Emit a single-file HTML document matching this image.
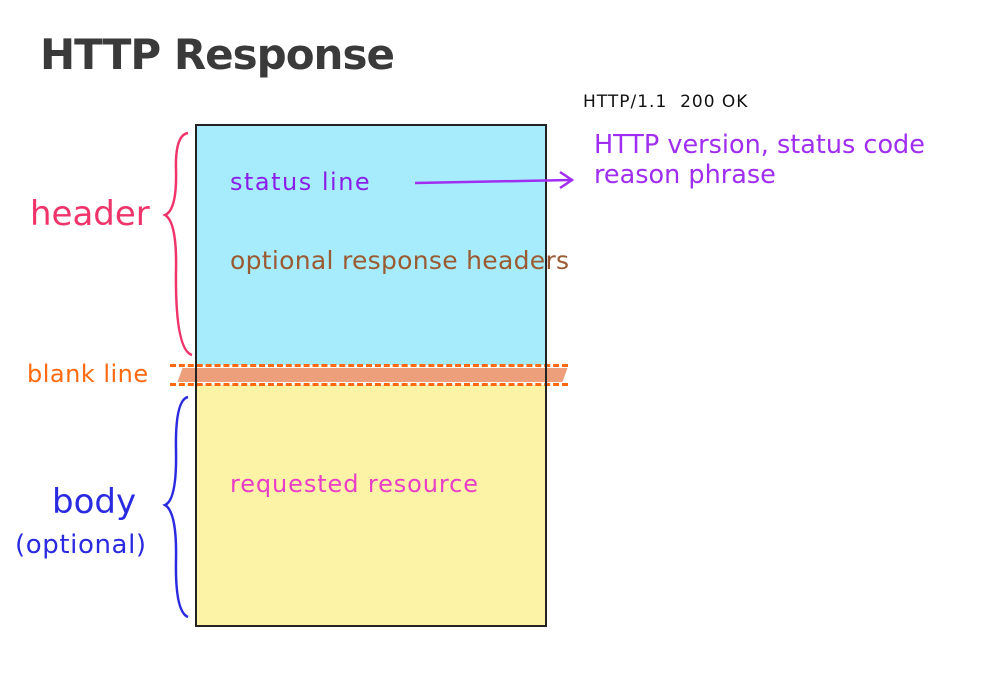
<!DOCTYPE html>
<html><head><meta charset="utf-8"><style>
body{margin:0;width:993px;height:675px;background:#fff;position:relative;overflow:hidden;font-family:"DejaVu Sans","Liberation Sans",sans-serif;}
.t{position:absolute;white-space:nowrap;}
</style></head><body>
<div class="t" style="left:40px;top:30px;font-size:42px;font-weight:bold;color:#3a3a3a;letter-spacing:-1px;">HTTP Response</div>
<div style="position:absolute;left:196px;top:125px;width:349px;height:240px;background:#a6ecfc;"></div>
<div style="position:absolute;left:196px;top:385px;width:349px;height:240px;background:#fdf3a6;"></div>
<div style="position:absolute;left:180px;top:368px;width:385px;height:14px;background:#e8875a;opacity:.8;transform:skewX(-20deg);"></div>
<div style="position:absolute;left:170px;top:364px;width:398px;border-top:3px dashed #ff6a10;"></div>
<div style="position:absolute;left:170px;top:383px;width:398px;border-top:3px dashed #ff6a10;"></div>
<div style="position:absolute;left:195px;top:124px;width:348px;height:499px;border:2px solid #222;"></div>
<div class="t" style="left:230px;top:168px;font-size:24px;color:#8a1ee8;letter-spacing:1.5px;">status line</div>
<div class="t" style="left:230px;top:246px;font-size:25px;color:#9a5a32;letter-spacing:0.3px;">optional response headers</div>
<div class="t" style="left:230px;top:470px;font-size:24px;color:#e83ec8;letter-spacing:0.9px;">requested resource</div>
<div class="t" style="left:583px;top:92px;font-size:17px;color:#111;letter-spacing:1px;">HTTP/1.1 &nbsp;200 OK</div>
<div class="t" style="left:594px;top:130px;font-size:25.5px;color:#a02ef0;line-height:30px;">HTTP version, status code<br>reason phrase</div>
<div class="t" style="left:30px;top:194px;font-size:34px;color:#f0346a;">header</div>
<div class="t" style="left:27px;top:360px;font-size:24px;color:#ff6a10;letter-spacing:0.5px;">blank line</div>
<div class="t" style="left:52px;top:482px;font-size:34px;color:#2a2ae0;">body</div>
<div class="t" style="left:15px;top:530px;font-size:26px;color:#2a2ae0;letter-spacing:0.6px;">(optional)</div>
<svg width="993" height="675" style="position:absolute;left:0;top:0">
<path d="M415 183 L570 180" stroke="#a02ef0" stroke-width="2.5" fill="none"/>
<path d="M560 172 L572 180 L560 188" stroke="#a02ef0" stroke-width="2.5" fill="none"/>
<path d="M188 133 Q175 135 176 170 Q177 210 165 215 Q177 222 176 270 Q175 350 192 355" stroke="#f0346a" stroke-width="2.5" fill="none"/>
<path d="M188 397 Q175 400 176 450 Q177 500 165 505 Q177 512 176 560 Q175 612 188 617" stroke="#2a2ae0" stroke-width="2.5" fill="none"/>
</svg>
</body></html>
